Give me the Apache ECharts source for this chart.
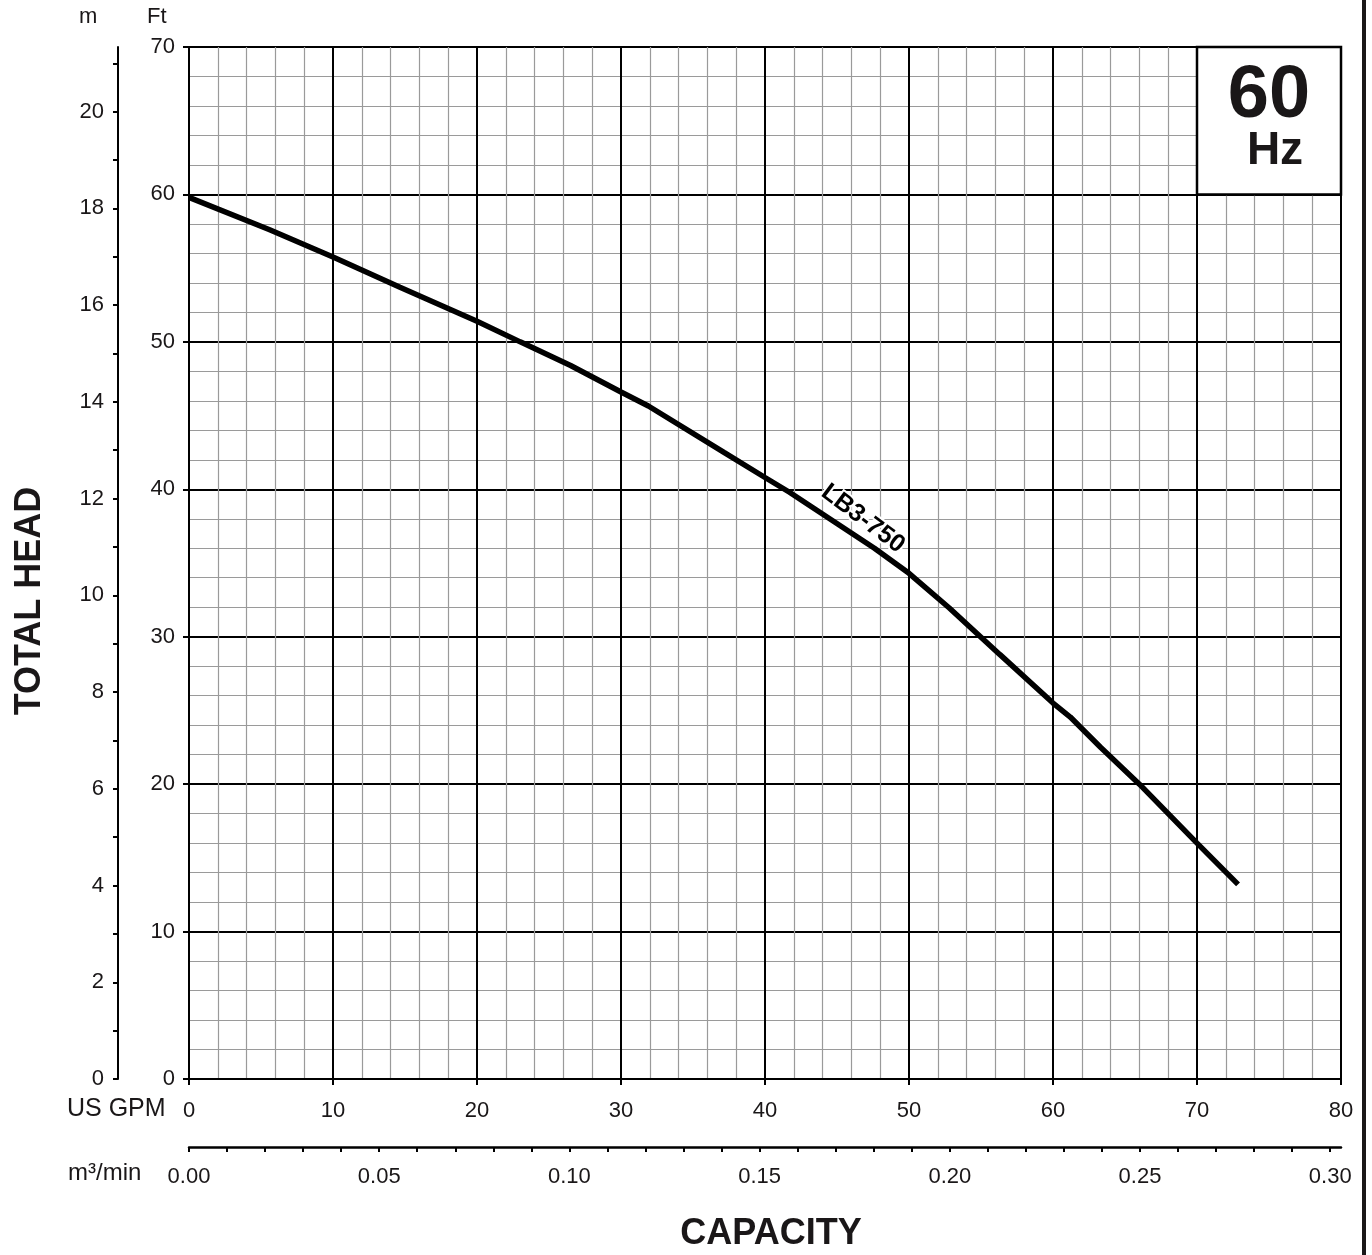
<!DOCTYPE html>
<html>
<head>
<meta charset="utf-8">
<script src="https://cdn.jsdelivr.net/npm/echarts@6/dist/echarts.min.js"></script>
<style>
html,body{margin:0;padding:0;background:#fff;}
#c{width:1372px;height:1255px;}
</style>
</head>
<body>
<div id="c"></div>
<script>
// ---- data ----
var gpm = [0, 5.6, 10, 14.65, 20, 23, 26.5, 30, 31.9, 37.15, 40, 41.7, 47.6, 50, 52.8, 56.3, 60, 61.2, 63.3, 66, 70, 72.85];
var headFt = [59.8, 57.6, 55.75, 53.7, 51.4, 50, 48.4, 46.6, 45.65, 42.5, 40.8, 39.8, 36.0, 34.3, 31.95, 28.8, 25.5, 24.55, 22.5, 20.0, 16.0, 13.2];
var curveName = 'LB3-750';
var curveLabelAt = [46.8, 38.0];
var hzBox = [[70, 60], [80, 70]];
var hzText = ['60', 'Hz'];
var gpmRange = [0, 80];
var ftRange = [0, 70];
var mMax = 70 * 0.3048;
var m3Max = 80 * 0.0037854;

var FONT = '"Liberation Sans", Arial, sans-serif';
var TXT = '#1a1718';

var chart = echarts.init(document.getElementById('c'), null, {renderer: 'canvas'});
var pts = gpm.map(function (g, i) { return [g, headFt[i]]; });

chart.setOption({
  animation: false,
  backgroundColor: '#fff',
  grid: {left: 189, right: 31, top: 47, bottom: 176, containLabel: false},
  xAxis: [{
    type: 'value', position: 'bottom',
    min: gpmRange[0], max: gpmRange[1], interval: 10,
    axisLine: {show: true, onZero: false, lineStyle: {color: '#000', width: 2}},
    axisTick: {show: true, length: 6, lineStyle: {color: '#000', width: 2}},
    axisLabel: {margin: 21, fontSize: 22, color: TXT, fontFamily: FONT},
    splitLine: {show: true, lineStyle: {color: '#000', width: 2}},
    minorTick: {show: false, splitNumber: 5},
    minorSplitLine: {show: true, lineStyle: {color: '#9a9a9a', width: 1.2}}
  }, {
    type: 'value', position: 'bottom', offset: 68,
    min: 0, max: m3Max, interval: 0.01,
    axisLine: {show: true, onZero: false, lineStyle: {color: '#000', width: 2.5}},
    axisTick: {show: true, length: 5, lineStyle: {color: '#000', width: 2}},
    axisLabel: {margin: 19, fontSize: 22, color: TXT, fontFamily: FONT, showMaxLabel: false,
      formatter: function (v) { return Math.round(v * 100) % 5 === 0 ? v.toFixed(2) : ''; }},
    splitLine: {show: false}
  }],
  yAxis: [{
    type: 'value', position: 'left',
    min: ftRange[0], max: ftRange[1], interval: 10,
    axisLine: {show: true, onZero: false, lineStyle: {color: '#000', width: 2}},
    axisTick: {show: true, length: 6, lineStyle: {color: '#000', width: 2}},
    axisLabel: {margin: 14, fontSize: 22, color: TXT, fontFamily: FONT},
    splitLine: {show: true, lineStyle: {color: '#000', width: 2}},
    minorTick: {show: false, splitNumber: 5},
    minorSplitLine: {show: true, lineStyle: {color: '#9a9a9a', width: 1.2}}
  }, {
    type: 'value', position: 'left', offset: 71,
    min: 0, max: mMax, interval: 1,
    axisLine: {show: true, onZero: false, lineStyle: {color: '#000', width: 2}},
    axisTick: {show: true, length: 5, lineStyle: {color: '#000', width: 2}},
    axisLabel: {margin: 14, fontSize: 22, color: TXT, fontFamily: FONT, showMaxLabel: false,
      formatter: function (v) { return Math.round(v) % 2 === 0 ? String(Math.round(v)) : ''; }},
    splitLine: {show: false}
  }],
  series: [{
    type: 'line', name: curveName,
    xAxisIndex: 0, yAxisIndex: 0,
    data: pts, showSymbol: false, symbol: 'none', smooth: false,
    lineStyle: {color: '#000', width: 5.5},
    silent: true,
    markArea: {
      silent: true,
      itemStyle: {color: '#fff', borderColor: '#000', borderWidth: 2.5, opacity: 1},
      label: {
        show: true, position: 'inside',
        formatter: '{a|' + hzText[0] + '}\n{b|' + hzText[1] + '}',
        rich: {
          a: {fontSize: 74, fontWeight: 'bold', fontFamily: FONT, color: TXT, lineHeight: 62, align: 'center',
              textShadowColor: '#8a8a8a', textShadowOffsetX: 3, textShadowOffsetY: 3, textShadowBlur: 0},
          b: {fontSize: 46, fontWeight: 'bold', fontFamily: FONT, color: TXT, lineHeight: 48, align: 'center', padding: [0, 0, 0, 12],
              textShadowColor: '#8a8a8a', textShadowOffsetX: 2, textShadowOffsetY: 2, textShadowBlur: 0}
        }
      },
      data: [[{coord: hzBox[0]}, {coord: hzBox[1]}]]
    }
  }, {
    type: 'scatter', xAxisIndex: 0, yAxisIndex: 0,
    data: [curveLabelAt], symbolSize: 1, itemStyle: {opacity: 0}, silent: true, z: 5,
    label: {show: true, position: 'inside', formatter: curveName, rotate: -37, opacity: 1,
      fontSize: 25, fontWeight: 'bold', fontFamily: FONT, color: '#000',
      textBorderColor: '#fff', textBorderWidth: 4}
  }],
  graphic: [
    {type: 'text', left: 79, top: 6, style: {text: 'm', fontSize: 22, fontFamily: FONT, fill: TXT}},
    {type: 'text', left: 147, top: 6, style: {text: 'Ft', fontSize: 22, fontFamily: FONT, fill: TXT}},
    {type: 'text', left: 67, top: 1097, style: {text: 'US GPM', fontSize: 25, fontFamily: FONT, fill: TXT}},
    {type: 'text', left: 68, top: 1161, style: {text: 'm³/min', fontSize: 24, fontFamily: FONT, fill: TXT}},
    {type: 'text', x: 30, y: 601, rotation: Math.PI / 2,
      style: {text: 'TOTAL HEAD', fontSize: 36, fontWeight: 'bold', fontFamily: FONT, fill: TXT, align: 'center', verticalAlign: 'middle'}},
    {type: 'text', x: 771, y: 1234,
      style: {text: 'CAPACITY', fontSize: 36, fontWeight: 'bold', fontFamily: FONT, fill: TXT, align: 'center', verticalAlign: 'middle'}},
    {type: 'rect', shape: {x: 1362, y: 0, width: 4, height: 1255}, style: {fill: TXT}}
  ]
});
</script>
</body>
</html>
